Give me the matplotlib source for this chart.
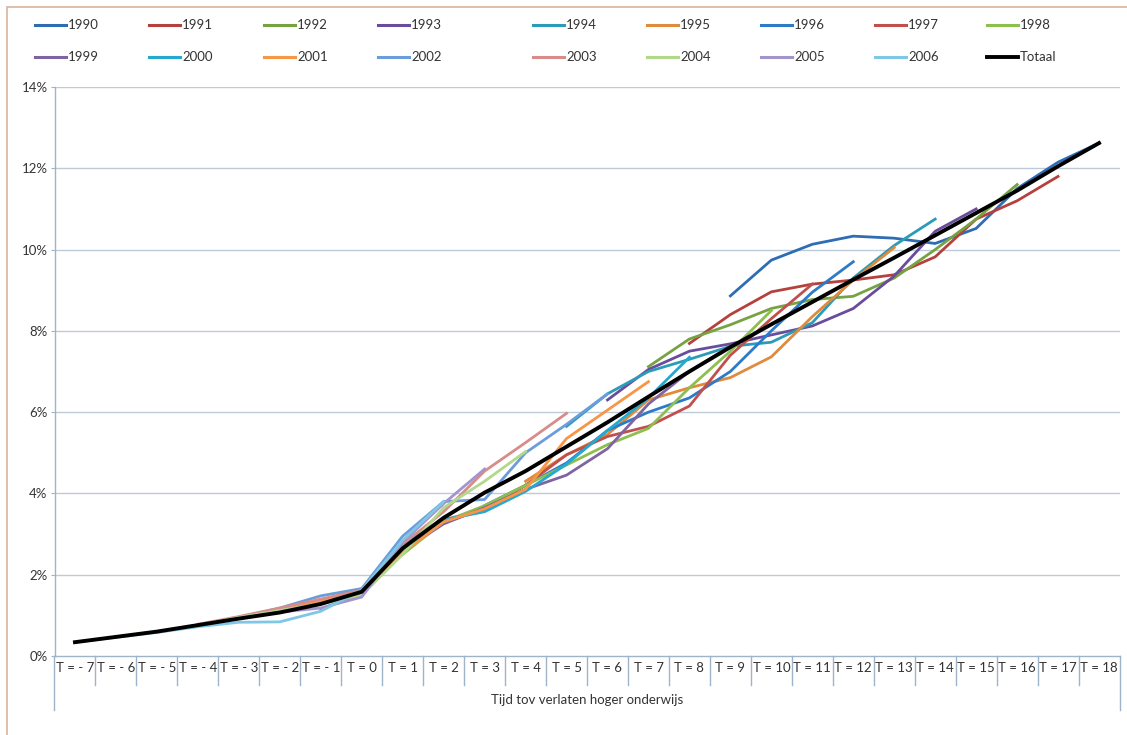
import matplotlib
matplotlib.use("Agg")
import matplotlib.pyplot as plt
from matplotlib.lines import Line2D
from matplotlib.patches import Rectangle
import matplotlib.transforms as mtransforms

plt.rcParams['font.family'] = ['Lato', 'DejaVu Sans']

# categories: T = -7 .. 18
t_values = list(range(-7, 19))
tick_labels = [("T = - %d" % -t) if t < 0 else ("T = %d" % t) for t in t_values]

# cohort series (percent), each starts at T = 1999 - year and has 10 points
y1990 = [8.86, 9.74, 10.13, 10.33, 10.28, 10.15, 10.52, 11.50, 12.15, 12.62]
y1991 = [7.69, 8.40, 8.96, 9.15, 9.25, 9.38, 9.82, 10.75, 11.20, 11.80]
y1992 = [7.12, 7.80, 8.15, 8.55, 8.77, 8.85, 9.30, 10.00, 10.75, 11.60]
y1993 = [6.30, 7.05, 7.50, 7.68, 7.90, 8.12, 8.55, 9.35, 10.45, 11.00]
y1994 = [5.65, 6.45, 7.00, 7.30, 7.62, 7.72, 8.20, 9.30, 10.10, 10.75]
y1995 = [4.30, 4.95, 5.45, 6.30, 6.60, 6.85, 7.36, 8.35, 9.25, 10.05]
y1996 = [3.70, 4.20, 4.75, 5.55, 6.00, 6.35, 7.00, 8.00, 8.95, 9.70]
y1997 = [3.35, 3.60, 4.20, 4.95, 5.40, 5.65, 6.15, 7.40, 8.30, 9.15]
y1998 = [2.50, 3.30, 3.70, 4.20, 4.70, 5.20, 5.60, 6.60, 7.50, 8.50]
y1999 = [1.55, 2.60, 3.25, 3.65, 4.10, 4.45, 5.10, 6.20, 7.00, 7.62]
y2000 = [1.15, 1.55, 2.75, 3.35, 3.55, 4.05, 4.72, 5.55, 6.35, 7.35]
y2001 = [1.12, 1.35, 1.58, 2.55, 3.30, 3.62, 4.10, 5.35, 6.05, 6.75]
y2002 = [0.95, 1.18, 1.48, 1.66, 2.95, 3.80, 3.85, 5.00, 5.70, 6.45]
y2003 = [0.78, 0.97, 1.18, 1.40, 1.62, 2.75, 3.55, 4.55, 5.25, 5.97]
y2004 = [0.58, 0.76, 0.95, 1.12, 1.28, 1.50, 2.50, 3.65, 4.30, 5.03]
y2005 = [0.47, 0.60, 0.76, 0.92, 1.08, 1.18, 1.45, 2.80, 3.75, 4.60]
y2006 = [0.34, 0.46, 0.58, 0.72, 0.83, 0.84, 1.10, 1.62, 2.85, 3.80]
totaal = [0.34, 0.47, 0.60, 0.76, 0.92, 1.07, 1.28, 1.58, 2.65, 3.40, 4.02, 4.55,
          5.15, 5.75, 6.38, 7.00, 7.60, 8.16, 8.71, 9.26, 9.80, 10.35, 10.90,
          11.45, 12.05, 12.62]

years = list(range(1990, 2007))
series = [y1990, y1991, y1992, y1993, y1994, y1995, y1996, y1997, y1998,
          y1999, y2000, y2001, y2002, y2003, y2004, y2005, y2006]
colors = ["#2E6DB4", "#B5413D", "#76A342", "#6A4C9C", "#2A9BB8", "#E08A3C",
          "#2C7BC8", "#C0504D", "#8DBF4E", "#8064A2", "#25A9CF", "#F79646",
          "#6C9DDB", "#D88C8A", "#B2D88A", "#A394CC", "#7FC7E6"]

W, H = 1127, 735
fig = plt.figure(figsize=(W / 100, H / 100), dpi=100)
fig.patch.set_facecolor("white")

# outer chart frame
fig.patches.append(Rectangle((7 / W, -0.05), 1.2, 1 - 7 / H + 0.05,
                             transform=fig.transFigure, fill=False,
                             edgecolor="#D8B49C", linewidth=1.2))

ax_l, ax_r, ax_t, ax_b = 54.5, 1119.5, 87, 656
ax = fig.add_axes([ax_l / W, 1 - ax_b / H, (ax_r - ax_l) / W, (ax_b - ax_t) / H])
ax.set_xlim(-0.5, len(t_values) - 0.5)
ax.set_ylim(0, 14)

grid_c = "#BDCAD8"
axis_c = "#9FB3C9"
for v in range(2, 15, 2):
    ax.axhline(v, color=grid_c, lw=1.0, zorder=0)

for sp in ["top", "right"]:
    ax.spines[sp].set_visible(False)
for sp in ["left", "bottom"]:
    ax.spines[sp].set_color(axis_c)
    ax.spines[sp].set_linewidth(1.0)

ax.set_yticks(range(0, 15, 2))
ax.set_yticklabels(["%d%%" % v for v in range(0, 15, 2)])
ax.tick_params(axis="y", length=3, color=axis_c, pad=2, labelsize=9.5,
               labelcolor="#333333")
ax.set_xticks(range(len(t_values)))
ax.set_xticklabels(tick_labels)
ax.tick_params(axis="x", length=0, pad=4, labelsize=9.5, labelcolor="#333333")

# category separators below the axis
trans = mtransforms.blended_transform_factory(ax.transData, ax.transAxes)
short = -(685 - 656) / (ax_b - ax_t)
long_ = -(710 - 656) / (ax_b - ax_t)
n = len(t_values)
for k in range(n + 1):
    xb = k - 0.5
    y_end = long_ if k in (0, n) else short
    ax.plot([xb, xb], [0, y_end], transform=trans, color=axis_c, lw=1.0,
            clip_on=False)

ax.text(0.5, -(700 - 656) / (ax_b - ax_t), "Tijd tov verlaten hoger onderwijs",
        transform=ax.transAxes, ha="center", va="center", fontsize=9.5,
        color="#333333")

# data lines
for yr, vals, c in zip(years, series, colors):
    start = 1999 - yr
    xs = [t_values.index(start + i) for i in range(len(vals))]
    ax.plot(xs, vals, color=c, lw=2.0, solid_joinstyle="round", zorder=3)
ax.plot(range(len(t_values)), totaal, color="black", lw=2.8, zorder=4,
        solid_joinstyle="round")

# legend (two rows of nine)
labels = [str(y) for y in years] + ["Totaal"]
lcolors = colors + ["black"]
text_x = [68, 182, 297, 411, 566, 680, 794, 908, 1020]
row_y = [25, 57]
for i, (lab, c) in enumerate(zip(labels, lcolors)):
    r, col = divmod(i, 9)
    tx = text_x[col]
    yy = 1 - row_y[r] / H
    fig.add_artist(Line2D([(tx - 33) / W, (tx - 2) / W], [yy, yy],
                          transform=fig.transFigure, color=c,
                          lw=2.8 if lab == "Totaal" else 2.2))
    fig.text((tx) / W, yy, lab, ha="left", va="center", fontsize=9.5,
             color="#333333")

fig.savefig("out.png", dpi=100, facecolor="white")
